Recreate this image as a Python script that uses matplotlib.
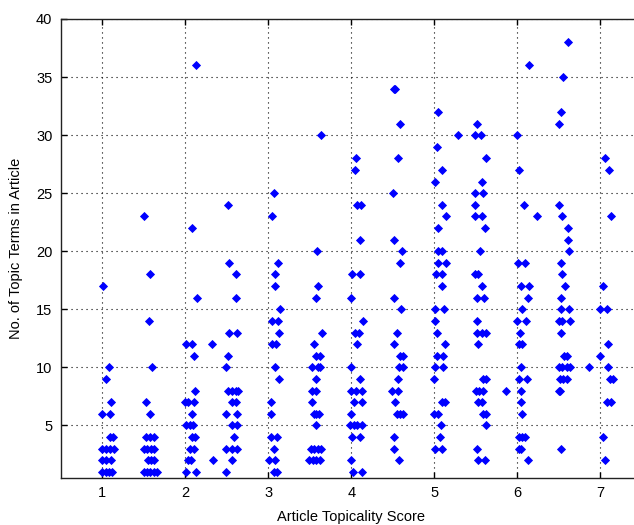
import matplotlib
matplotlib.use("Agg")
import matplotlib.pyplot as plt

# Article topicality score (x) and number of topic terms (y)
topicality = [
    # ~1
    1.01, 1.08, 1.05, 1.11, 1.00, 1.09, 1.09, 1.13, 1.00, 1.05, 1.09, 1.14, 1.00, 1.05, 1.11, 1.00, 1.04, 1.08, 1.12,
    # ~1.5
    1.50, 1.58, 1.56, 1.60, 1.53, 1.57, 1.53, 1.57, 1.62, 1.50, 1.54, 1.59, 1.63, 1.55, 1.59, 1.63, 1.50, 1.54, 1.58, 1.62, 1.66,
    # ~2
    2.13, 2.08, 2.14, 2.01, 2.08, 2.32, 2.10, 2.12, 2.00, 2.03, 2.11, 2.08, 2.01, 2.06, 2.09, 2.08, 2.12, 2.06, 2.11, 2.03, 2.07, 2.33, 2.01, 2.13,
    # ~2.5
    2.51, 2.53, 2.61, 2.61, 2.53, 2.62, 2.51, 2.49, 2.52, 2.56, 2.61, 2.64, 2.56, 2.61, 2.49, 2.62, 2.56, 2.62, 2.59, 2.49, 2.56, 2.62, 2.56, 2.49,
    # ~3
    3.07, 3.04, 3.12, 3.08, 3.08, 3.14, 3.05, 3.12, 3.13, 3.05, 3.09, 3.08, 3.13, 3.03, 3.03, 3.03, 3.10, 3.07, 3.01, 3.08, 3.07, 3.11,
    # ~3.6
    3.64, 3.59, 3.60, 3.58, 3.65, 3.55, 3.57, 3.63, 3.53, 3.60, 3.63, 3.58, 3.53, 3.57, 3.53, 3.55, 3.58, 3.61, 3.58, 3.51, 3.55, 3.60, 3.64, 3.49, 3.54, 3.58, 3.62,
    # ~4
    4.06, 4.05, 4.07, 4.12, 4.11, 4.01, 4.11, 4.00, 4.14, 4.05, 4.09, 4.07, 4.00, 4.11, 4.00, 4.06, 4.13, 4.03, 4.13, 4.00, 3.99, 4.03, 4.07, 4.13, 4.01, 4.11, 4.00, 4.02, 4.13,
    # ~4.5
    4.51, 4.53, 4.59, 4.56, 4.50, 4.51, 4.61, 4.59, 4.52, 4.60, 4.55, 4.51, 4.59, 4.63, 4.58, 4.62, 4.56, 4.49, 4.56, 4.53, 4.55, 4.59, 4.62, 4.52, 4.52, 4.58,
    # ~5
    5.04, 5.03, 5.10, 5.01, 5.09, 5.14, 5.05, 5.05, 5.09, 5.04, 5.14, 5.02, 5.09, 5.10, 5.01, 5.12, 5.01, 5.03, 5.13, 5.03, 5.11, 5.01, 5.11, 5.00, 5.09, 5.13, 5.00, 5.04, 5.08, 5.07, 5.01, 5.10, 5.29,
    # ~5.5
    5.51, 5.49, 5.56, 5.63, 5.58, 5.49, 5.59, 5.49, 5.49, 5.58, 5.61, 5.55, 5.49, 5.53, 5.58, 5.51, 5.60, 5.51, 5.51, 5.57, 5.63, 5.53, 5.59, 5.63, 5.50, 5.54, 5.59, 5.87, 5.53, 5.57, 5.59, 5.63, 5.63, 5.51, 5.53, 5.61,
    # ~6
    6.14, 6.00, 6.02, 6.08, 6.24, 6.01, 6.09, 6.04, 6.14, 6.13, 6.06, 6.00, 6.10, 6.03, 6.02, 6.06, 6.05, 6.02, 6.12, 6.05, 6.05, 6.06, 6.02, 6.06, 6.09, 6.02, 6.04, 6.13,
    # ~6.5
    6.61, 6.55, 6.53, 6.50, 6.50, 6.54, 6.61, 6.61, 6.63, 6.53, 6.54, 6.57, 6.53, 6.53, 6.62, 6.50, 6.54, 6.64, 6.53, 6.56, 6.60, 6.50, 6.54, 6.60, 6.64, 6.87, 6.51, 6.55, 6.60, 6.50, 6.52, 6.53,
    # ~7
    7.06, 7.10, 7.13, 7.03, 7.00, 7.08, 7.09, 7.00, 7.09, 7.12, 7.15, 7.08, 7.13, 7.03, 7.06,
]
topic_terms = [
    # ~1
    17, 10, 9, 7, 6, 6, 4, 4, 3, 3, 3, 3, 2, 2, 2, 1, 1, 1, 1,
    # ~1.5
    23, 18, 14, 10, 7, 6, 4, 4, 4, 3, 3, 3, 3, 2, 2, 2, 1, 1, 1, 1, 1,
    # ~2
    36, 22, 16, 12, 12, 12, 11, 8, 7, 7, 7, 6, 5, 5, 5, 4, 4, 3, 3, 2, 2, 2, 1, 1,
    # ~2.5
    24, 19, 18, 16, 13, 13, 11, 10, 8, 8, 8, 8, 7, 7, 6, 6, 5, 5, 4, 3, 3, 3, 2, 1,
    # ~3
    25, 23, 19, 18, 17, 15, 14, 14, 13, 12, 12, 10, 9, 7, 6, 4, 4, 3, 2, 2, 1, 1,
    # ~3.6
    30, 20, 17, 16, 13, 12, 11, 11, 10, 10, 10, 9, 8, 8, 7, 6, 6, 6, 5, 3, 3, 3, 3, 2, 2, 2, 2,
    # ~4
    28, 27, 24, 24, 21, 18, 18, 16, 14, 13, 13, 12, 10, 9, 8, 8, 8, 7, 7, 6, 5, 5, 5, 5, 4, 4, 2, 1, 1,
    # ~4.5
    34, 34, 31, 28, 25, 21, 20, 19, 16, 15, 13, 12, 11, 11, 10, 10, 9, 8, 8, 7, 6, 6, 6, 4, 3, 2,
    # ~5
    32, 29, 27, 26, 24, 23, 22, 20, 20, 19, 19, 18, 18, 17, 15, 15, 14, 13, 12, 11, 11, 10, 10, 9, 7, 7, 6, 6, 5, 4, 3, 3, 30,
    # ~5.5
    31, 30, 30, 28, 26, 25, 25, 24, 23, 23, 22, 20, 18, 18, 17, 16, 16, 14, 13, 13, 13, 12, 9, 9, 8, 8, 8, 8, 7, 7, 6, 6, 5, 3, 2, 2,
    # ~6
    36, 30, 27, 24, 23, 19, 19, 17, 17, 16, 15, 14, 14, 13, 12, 12, 10, 9, 9, 8, 7, 6, 4, 4, 4, 3, 3, 2,
    # ~6.5
    38, 35, 32, 31, 24, 23, 22, 21, 20, 19, 18, 17, 16, 15, 15, 14, 14, 14, 13, 11, 11, 10, 10, 10, 10, 10, 9, 9, 9, 8, 8, 3,
    # ~7
    28, 27, 23, 17, 15, 15, 12, 11, 10, 9, 9, 7, 7, 4, 2,
]

x_ticks = [1, 2, 3, 4, 5, 6, 7]
y_ticks = [5, 10, 15, 20, 25, 30, 35, 40]
x_label = "Article Topicality Score"
y_label = "No. of Topic Terms in Article"

plt.rcParams['font.family'] = ['Liberation Sans', 'DejaVu Sans']

fig = plt.figure(figsize=(6.34, 5.25), dpi=100)
ax = fig.add_axes([60.7 / 634, 47.3 / 525, 581 / 634, 458.7 / 525])

ax.plot(topicality, topic_terms, linestyle='none', marker='D', markersize=4.4,
        color='#0000ff', markeredgewidth=0.6, zorder=3)

ax.set_xlim(0.5, 7.5)
ax.set_ylim(0.5, 40)
ax.set_xticks(x_ticks)
ax.set_yticks(y_ticks)
ax.tick_params(direction='in', length=4, width=1, top=True, right=True,
               labelsize=10.5, colors='black', pad=6)
ax.grid(True, color='black', linestyle=(0, (1, 3.5)), linewidth=0.8)
for s in ax.spines.values():
    s.set_linewidth(1.0)
    s.set_color('#222222')

ax.set_xlabel(x_label, fontsize=10.5, labelpad=7)
ax.set_ylabel(y_label, fontsize=10.5, labelpad=9)

fig.savefig("out.png", dpi=100)
